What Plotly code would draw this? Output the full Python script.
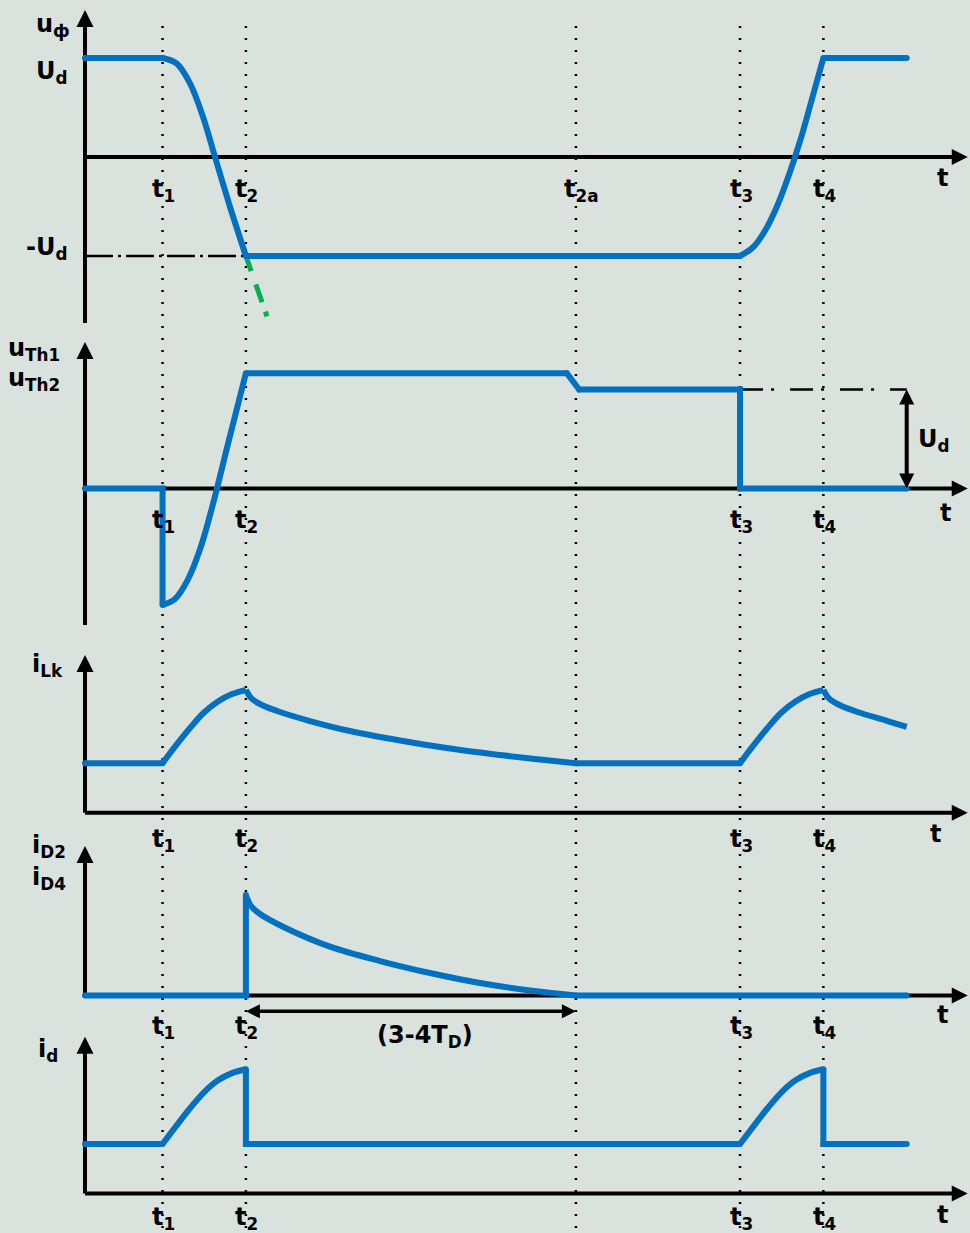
import plotly.graph_objects as go

# ---------------------------------------------------------------------------
# Time instants (common time axis, arbitrary units)
# ---------------------------------------------------------------------------
T_KEYS = [0.94, 1.95, 5.95, 7.94, 8.95]          # t1, t2, t2a, t3, t4
T_NAMES = ["t<sub>1</sub>", "t<sub>2</sub>", "t<sub>2a</sub>", "t<sub>3</sub>", "t<sub>4</sub>"]
T_END = 9.96                                       # end of the drawn waveforms
T_AXIS_END = 10.70                                 # tip of the time axis arrow

# ---------------------------------------------------------------------------
# Panel 1: phase voltage u_ф  (units of U_d)
# ---------------------------------------------------------------------------
UPH_T1 = [0.0, 0.94]
UPH_V1 = [1.0, 1.0]
UPH_FALL_T = [0.94, 1.11, 1.273, 1.43, 1.576, 1.758, 1.95]
UPH_FALL_V = [1.0, 0.946, 0.744, 0.407, 0.0, -0.505, -1.0]
UPH_T2 = [1.95, 7.94]
UPH_V2 = [-1.0, -1.0]
UPH_RISE_T = [7.94, 8.101, 8.255, 8.40, 8.545, 8.679, 8.812, 8.95]
UPH_RISE_V = [-1.0, -0.909, -0.727, -0.475, -0.152, 0.192, 0.586, 1.0]
UPH_T3 = [8.95, 9.96]
UPH_V3 = [1.0, 1.0]
# continuation of the voltage swing beyond -U_d
UPH_EXT_T = [1.95, 2.24]
UPH_EXT_V = [-1.0, -1.69]

# ---------------------------------------------------------------------------
# Panel 2: thyristor voltage u_Th1 / u_Th2
# ---------------------------------------------------------------------------
UTH_T1 = [0.0, 0.94, 0.94]
UTH_V1 = [0.0, 0.0, -1.177]
UTH_RISE_T = [0.94, 1.09, 1.242, 1.394, 1.548, 1.745, 1.95]
UTH_RISE_V = [-1.177, -1.116, -0.928, -0.614, -0.167, 0.490, 1.164]
UTH_T2 = [1.95, 5.84, 5.99, 7.94, 7.94, 9.96]
UTH_V2 = [1.164, 1.164, 1.0, 1.0, 0.0, 0.0]

# ---------------------------------------------------------------------------
# Panel 3: commutating inductance current i_Lk
# ---------------------------------------------------------------------------
ILK_T1 = [0.0, 0.94]
ILK_V1 = [0.5, 0.5]
ILK_RISE1_T = [0.94, 1.10, 1.273, 1.442, 1.612, 1.782, 1.95]
ILK_RISE1_V = [0.5, 0.677, 0.856, 1.012, 1.123, 1.198, 1.241]
ILK_DECAY1_T = [1.95, 2.024, 2.145, 2.364, 2.727, 3.212, 3.818, 4.424, 5.03, 5.515, 5.95]
ILK_DECAY1_V = [1.241, 1.149, 1.088, 1.017, 0.926, 0.825, 0.729, 0.648, 0.583, 0.537, 0.5]
ILK_T2 = [5.95, 7.94]
ILK_V2 = [0.5, 0.5]
ILK_RISE2_T = [7.94, 8.10, 8.273, 8.442, 8.612, 8.782, 8.95]
ILK_RISE2_V = [0.5, 0.677, 0.856, 1.012, 1.123, 1.198, 1.241]
ILK_DECAY2_T = [8.95, 9.024, 9.145, 9.364, 9.727, 9.96]
ILK_DECAY2_V = [1.241, 1.149, 1.088, 1.017, 0.926, 0.866]

# ---------------------------------------------------------------------------
# Panel 4: diode current i_D2 / i_D4
# ---------------------------------------------------------------------------
ID24_T1 = [0.0, 1.95, 1.95]
ID24_V1 = [0.0, 0.0, 1.015]
ID24_DECAY_T = [1.95, 2.012, 2.121, 2.40, 2.97, 3.576, 4.182, 4.788, 5.394, 5.95]
ID24_DECAY_V = [1.015, 0.904, 0.823, 0.695, 0.493, 0.348, 0.227, 0.126, 0.051, 0.0]
ID24_T2 = [5.95, 9.96]
ID24_V2 = [0.0, 0.0]
ID24_SPAN_V = -0.16        # level of the (3-4T_D) dimension arrow

# ---------------------------------------------------------------------------
# Panel 5: DC-link current i_d
# ---------------------------------------------------------------------------
ID_T1 = [0.0, 0.94]
ID_V1 = [0.5, 0.5]
ID_RISE1_T = [0.94, 1.10, 1.273, 1.442, 1.612, 1.782, 1.95]
ID_RISE1_V = [0.5, 0.676, 0.861, 1.022, 1.143, 1.216, 1.255]
ID_T2 = [1.95, 1.95, 7.94]
ID_V2 = [1.255, 0.5, 0.5]
ID_RISE2_T = [7.94, 8.10, 8.273, 8.442, 8.612, 8.782, 8.95]
ID_RISE2_V = [0.5, 0.676, 0.861, 1.022, 1.143, 1.216, 1.255]
ID_T3 = [8.95, 8.95, 9.96]
ID_V3 = [1.255, 0.5, 0.5]

# ---------------------------------------------------------------------------
# Geometry / style
# ---------------------------------------------------------------------------
W, H = 970, 1233
X0_PX = 85.0           # horizontal position of the vertical axes
PX_PER_T = 82.5
PX_PER_UNIT = 99.0
ZERO_PX = [157, 488.5, 812.7, 995.5, 1193.5]   # time-axis position of each panel
AXIS_TOP = [1.485, 1.48, 1.593, 1.51, 1.584]   # arrow tips of the vertical axes
AXIS_BOTTOM = [-1.677, -1.379, 0.0, 0.0, 0.0]

BLUE = "#0070C0"
GREEN = "#00B050"
BLACK = "#000000"
BG = "#d9e2dd"
FONT = "DejaVu Sans"

fig = go.Figure()


def yref(k):
    return "y" if k == 0 else f"y{k + 1}"


def line(t, v, k, color=BLUE, width=6, shape="linear", dash=None, joints=False):
    fig.add_trace(go.Scatter(
        x=t, y=v, xaxis="x", yaxis=yref(k),
        mode="lines+markers" if joints else "lines",
        line=dict(color=color, width=width, shape=shape, dash=dash,
                  smoothing=1.0 if shape == "spline" else None),
        marker=dict(size=width, color=color, line=dict(width=0)),
        hoverinfo="skip", showlegend=False,
    ))


def arrowhead(t, v, k, symbol, size):
    fig.add_trace(go.Scatter(
        x=[t], y=[v], xaxis="x", yaxis=yref(k), mode="markers",
        marker=dict(symbol=symbol, size=size, color=BLACK, line=dict(width=0)),
        hoverinfo="skip", showlegend=False,
    ))


# axes of every panel
for k in range(5):
    top = AXIS_TOP[k]
    line([0, 0], [AXIS_BOTTOM[k], top - 8 / PX_PER_UNIT], k, BLACK, 4)
    arrowhead(0, top, k, "arrow-up", 17)
    line([0, T_AXIS_END - 8 / PX_PER_T], [0, 0], k, BLACK, 4)
    arrowhead(T_AXIS_END, 0, k, "arrow-right", 16)

# reference levels (dash-dot)
line([0, T_KEYS[1]], [-1, -1], 0, BLACK, 2.5, dash="28px,5px,3px,5px")
line([T_KEYS[3], T_END], [1, 1], 1, BLACK, 2.5, dash="23px,8px,3px,16px")

# panel 1
line(UPH_EXT_T, UPH_EXT_V, 0, GREEN, 5, dash="16px,14px,19px,10px,5px,40px")
line(UPH_T1, UPH_V1, 0, joints=True)
line(UPH_FALL_T, UPH_FALL_V, 0, shape="spline")
line(UPH_T2, UPH_V2, 0, joints=True)
line(UPH_RISE_T, UPH_RISE_V, 0, shape="spline")
line(UPH_T3, UPH_V3, 0, joints=True)

# panel 2
line(UTH_T1, UTH_V1, 1, joints=True)
line(UTH_RISE_T, UTH_RISE_V, 1, shape="spline")
line(UTH_T2, UTH_V2, 1, joints=True)
# U_d dimension arrow
line([T_END, T_END], [9 / PX_PER_UNIT, 1 - 9 / PX_PER_UNIT], 1, BLACK, 4)
arrowhead(T_END, 1.0, 1, "arrow-up", 15)
arrowhead(T_END, 0.0, 1, "arrow-down", 15)

# panel 3
line(ILK_T1, ILK_V1, 2, joints=True)
line(ILK_RISE1_T, ILK_RISE1_V, 2, shape="spline")
line(ILK_DECAY1_T, ILK_DECAY1_V, 2, shape="spline")
line(ILK_T2, ILK_V2, 2, joints=True)
line(ILK_RISE2_T, ILK_RISE2_V, 2, shape="spline")
line(ILK_DECAY2_T, ILK_DECAY2_V, 2, shape="spline")

# panel 4
line(ID24_T1, ID24_V1, 3, joints=True)
line(ID24_DECAY_T, ID24_DECAY_V, 3, shape="spline")
line(ID24_T2, ID24_V2, 3, joints=True)
# (3-4T_D) dimension arrow
line([T_KEYS[1] + 8 / PX_PER_T, T_KEYS[2] - 8 / PX_PER_T], [ID24_SPAN_V, ID24_SPAN_V], 3, BLACK, 3.5)
arrowhead(T_KEYS[1], ID24_SPAN_V, 3, "arrow-left", 14)
arrowhead(T_KEYS[2], ID24_SPAN_V, 3, "arrow-right", 14)

# panel 5
line(ID_T1, ID_V1, 4, joints=True)
line(ID_RISE1_T, ID_RISE1_V, 4, shape="spline")
line(ID_T2, ID_V2, 4, joints=True)
line(ID_RISE2_T, ID_RISE2_V, 4, shape="spline")
line(ID_T3, ID_V3, 4, joints=True)

# vertical dotted markers of the instants
shapes = []
for t in T_KEYS:
    shapes.append(dict(type="line", xref="x", yref="paper", x0=t, x1=t,
                       y0=1 - 1228 / H, y1=1 - 20 / H, layer="below",
                       line=dict(color=BLACK, width=2.5, dash="2px,10px")))

annotations = []
FNT = dict(family=FONT, size=24, color=BLACK)

# instant labels under each time axis
LABEL_DROP = [33, 32.5, 28, 31.5, 24.5]
T_LABEL_DX = [968 - 943, 968 - 946, 968 - 936, 968 - 943, 968 - 943]
T_LABEL_DROP = [21, 24.5, 21, 19.5, 21.5]
for k in range(5):
    for i, (t, name) in enumerate(zip(T_KEYS, T_NAMES)):
        if i == 2 and k != 0:
            continue
        annotations.append(dict(x=t, y=0, xref="x", yref=yref(k), text=f"<b>{name}</b>",
                                showarrow=False, font=FNT, xanchor="center", yanchor="middle",
                                yshift=-LABEL_DROP[k], xshift=6 if i == 2 else 1))
    annotations.append(dict(x=T_AXIS_END, y=0, xref="x", yref=yref(k), text="<b>t</b>",
                            showarrow=False, font=FNT, xanchor="center", yanchor="middle",
                            xshift=-T_LABEL_DX[k], yshift=-T_LABEL_DROP[k]))

# signal names and level labels (pixel placement)
LEFT_LABELS = [
    ("u<sub>ф</sub>", 72, 25),
    ("U<sub>d</sub>", 70, 72),
    ("-U<sub>d</sub>", 69, 248),
    ("u<sub>Th1</sub>", 62, 350),
    ("u<sub>Th2</sub>", 62, 380),
    ("i<sub>Lk</sub>", 65, 665),
    ("i<sub>D2</sub>", 68, 846),
    ("i<sub>D4</sub>", 68, 878),
    ("i<sub>d</sub>", 60, 1050),
]
for text, xr, yc in LEFT_LABELS:
    annotations.append(dict(x=xr / W, y=1 - yc / H, xref="paper", yref="paper",
                            text=f"<b>{text}</b>", showarrow=False, font=FNT,
                            xanchor="right", yanchor="middle"))

annotations.append(dict(x=934 / W, y=1 - 440 / H, xref="paper", yref="paper",
                        text="<b>U<sub>d</sub></b>", showarrow=False, font=FNT,
                        xanchor="center", yanchor="middle"))
annotations.append(dict(x=(T_KEYS[1] + T_KEYS[2]) / 2, y=ID24_SPAN_V, xref="x", yref=yref(3),
                        text="<b>(3-4T<sub>D</sub>)</b>", showarrow=False, font=FNT,
                        xanchor="center", yanchor="middle", yshift=-25, xshift=14))

layout = dict(
    width=W, height=H, autosize=False,
    margin=dict(l=0, r=0, t=0, b=0, pad=0),
    paper_bgcolor=BG, plot_bgcolor=BG,
    showlegend=False,
    xaxis=dict(domain=[0, 1], range=[-X0_PX / PX_PER_T, (W - X0_PX) / PX_PER_T],
               visible=False, fixedrange=True),
    shapes=shapes, annotations=annotations,
)
for k in range(5):
    key = "yaxis" if k == 0 else f"yaxis{k + 1}"
    ax = dict(domain=[0, 1], anchor="x", visible=False, fixedrange=True,
              range=[(ZERO_PX[k] - H) / PX_PER_UNIT, ZERO_PX[k] / PX_PER_UNIT])
    if k > 0:
        ax["overlaying"] = "y"
    layout[key] = ax

fig.update_layout(**layout)
fig.write_html("out.html", config={"displayModeBar": False, "staticPlot": True},
               post_script="document.body.style.margin='0';")
